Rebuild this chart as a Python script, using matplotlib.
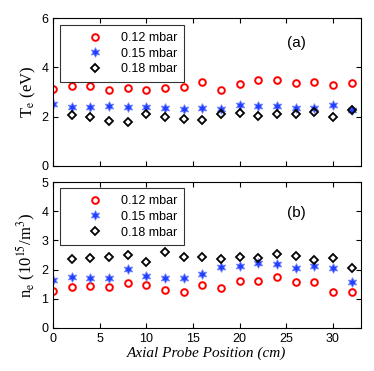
import matplotlib
matplotlib.use("Agg")
import matplotlib.pyplot as plt
import numpy as np

plt.rcParams['mathtext.fontset'] = 'stix'
plt.rcParams['font.family'] = ['Liberation Sans', 'DejaVu Sans']

pos = [0, 2, 4, 6, 8, 10, 12, 14, 16, 18, 20, 22, 24, 26, 28, 30, 32]
pos_b = pos[1:]
labels = ['0.12 mbar', '0.15 mbar', '0.18 mbar']

te_012 = [3.13, 3.26, 3.26, 3.07, 3.15, 3.10, 3.15, 3.21, 3.40, 3.07, 3.32, 3.50, 3.49, 3.38, 3.41, 3.29, 3.36]
te_015 = [2.53, 2.41, 2.39, 2.45, 2.41, 2.39, 2.35, 2.32, 2.35, 2.32, 2.48, 2.43, 2.45, 2.36, 2.36, 2.48, 2.28]
te_018 = [2.05, 1.97, 1.82, 1.77, 2.10, 1.97, 1.89, 1.86, 2.09, 2.14, 2.04, 2.12, 2.12, 2.20, 1.99, 2.26]

ne_012 = [1.27, 1.42, 1.45, 1.42, 1.53, 1.48, 1.31, 1.25, 1.47, 1.36, 1.60, 1.61, 1.76, 1.57, 1.57, 1.24, 1.23]
ne_015 = [1.63, 1.74, 1.73, 1.73, 2.02, 1.77, 1.70, 1.72, 1.85, 2.09, 2.11, 2.23, 2.18, 2.05, 2.14, 2.07, 1.57]
ne_018 = [2.35, 2.40, 2.43, 2.51, 2.27, 2.61, 2.43, 2.45, 2.35, 2.45, 2.39, 2.55, 2.48, 2.32, 2.40, 2.07]

fig = plt.figure(figsize=(3.74, 3.71), dpi=100)
ax1 = fig.add_axes([0.142, 0.553, 0.823, 0.398])
ax2 = fig.add_axes([0.142, 0.116, 0.823, 0.393])

def draw(ax, a, b, c, ylim, yticks, ylabel, tag, tagy, legy, show_x):
    ax.plot(pos, a, 'o', mfc='none', mec='#ff0000', ms=4.8, mew=1.4, ls='none', label=labels[0])
    ax.plot(pos, b, marker=(6, 1, 0), color='#2040ff', mfc='#2040ff', mec='#7080ff', ms=7, mew=0.6, ls='none', label=labels[1])
    ax.plot(pos_b, c, 'D', mfc='none', mec='black', ms=3.8, mew=1.3, ls='none', label=labels[2])
    ax.set_xlim(0, 33)
    ax.set_ylim(*ylim)
    ax.set_yticks(yticks)
    ax.set_xticks([0, 5, 10, 15, 20, 25, 30])
    ax.tick_params(direction='in', top=True, right=True, labelsize=9, length=3.5, width=0.8)
    if not show_x:
        ax.tick_params(labelbottom=False)
    for s in ax.spines.values():
        s.set_linewidth(0.8)
    ax.set_ylabel(ylabel, fontsize=12, family='Liberation Serif', labelpad=2)
    leg = ax.legend(loc='upper left', bbox_to_anchor=(0.023, legy), fontsize=9, frameon=True,
                    fancybox=False, edgecolor='black', handletextpad=-0.2, borderpad=0.55,
                    labelspacing=0.3, handlelength=4.5, borderaxespad=0)
    leg.get_frame().set_linewidth(0.8)
    ax.text(0.79, tagy, tag, transform=ax.transAxes, fontsize=11, ha='center', va='center')

draw(ax1, te_012, te_015, te_018, (0, 6), [0, 2, 4, 6], r'T$_\mathrm{e}$ (eV)', '(a)', 0.83, 0.953, False)
draw(ax2, ne_012, ne_015, ne_018, (0, 5), [0, 1, 2, 3, 4, 5], r'n$_\mathrm{e}$ (10$^{15}$/m$^{3}$)', '(b)', 0.79, 0.959, True)
ax2.set_xlabel('Axial Probe Position (cm)', fontsize=11, family='Liberation Serif', style='italic', labelpad=1)

fig.savefig('out.png', dpi=100)
